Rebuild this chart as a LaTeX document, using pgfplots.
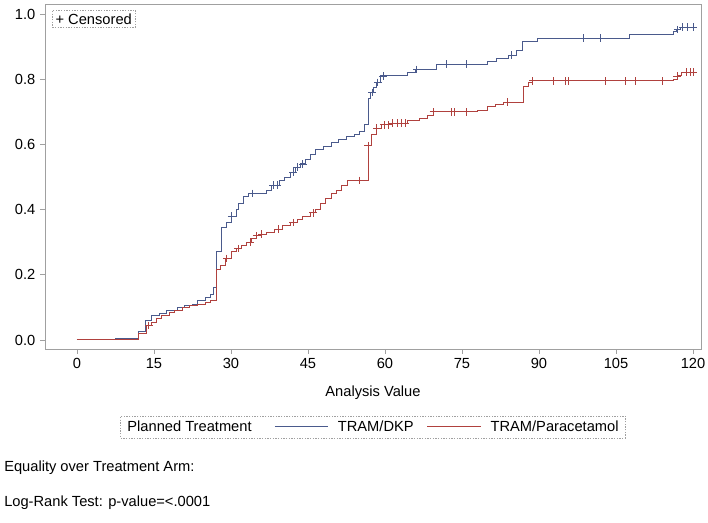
\documentclass[border=0pt]{standalone}
\usepackage{pgfplots}
\pgfplotsset{compat=1.18}
\usepackage{fontspec}
\setmainfont{Liberation Sans}
\definecolor{kmblue}{HTML}{4A5A8C}
\definecolor{kmred}{HTML}{B0413E}
\definecolor{framegray}{HTML}{A0A0A0}
\begin{document}
\begin{tikzpicture}
\begin{axis}[
  at={(0,0)}, anchor=south west,
  scale only axis, width=492pt, height=258.75pt,
  xmin=-6.23, xmax=121.56, ymin=-0.0277, ymax=1.0308,
  axis line style={framegray, line width=0.6pt},
  tick style={framegray, line width=0.6pt},
  tick align=outside, major tick length=3.75pt,
  xtick pos=bottom, ytick pos=left,
  xtick={0,15,...,120}, ytick={0,0.2,0.4,0.6,0.8,1.0},
  yticklabel style={/pgf/number format/.cd, fixed, fixed zerofill, precision=1},
  /pgf/number format/assume math mode=true,
  ticklabel style={font=\fontsize{11}{13}\selectfont, text=black},
  xlabel={Analysis Value},
  xlabel style={font=\fontsize{11}{13}\selectfont, at={(axis description cs:0.5,-0.1275)}, anchor=center},
  legend columns=3,
  legend image code/.code={\draw[#1] (0pt,0pt) -- (40pt,0pt);},
  legend style={at={(0.5,-0.226)}, anchor=center, draw=framegray,
    dash pattern=on 1pt off 1pt, font=\fontsize{11}{13}\selectfont,
    /tikz/column 2/.style={column sep=15pt},
    /tikz/column 3/.style={column sep=5pt},
    /tikz/column 4/.style={column sep=8pt},
    /tikz/column 5/.style={column sep=5pt},
    inner ysep=1.5pt},
  legend cell align=left,
]
\addlegendimage{empty legend}\addlegendentry{Planned Treatment}
\addplot[const plot, kmblue, line width=0.7pt, mark=none] coordinates {
(0,0) (7.4,0.005) (12,0.025) (13.3,0.06) (14.5,0.075) (16,0.08) (17.5,0.09)
(19.5,0.10) (21,0.105) (22.5,0.11) (23.5,0.12) (25,0.13) (26,0.14) (26.5,0.16)
(27.2,0.27) (28.2,0.345) (29.2,0.36) (30.1,0.38) (31,0.40) (31.5,0.42) (32.5,0.44)
(33.5,0.45) (37,0.46) (37.8,0.475) (39.5,0.49) (40.5,0.50) (41.5,0.515) (42.5,0.53)
(43.5,0.54) (44.5,0.555) (45.5,0.57) (46.5,0.585) (48,0.595) (49.5,0.605)
(51,0.615) (52.5,0.625) (54,0.63) (55,0.64) (56,0.66) (56.7,0.74) (57.2,0.76)
(57.7,0.775) (58.4,0.79) (59.2,0.81) (64.3,0.82) (66,0.83) (70,0.846) (79.9,0.855)
(81.8,0.865) (84,0.874) (85.7,0.887) (86.7,0.917) (89.8,0.926) (107.7,0.938)
(116.2,0.945) (116.8,0.952) (117.5,0.96) (120,0.96)
};
\addlegendentry{TRAM/DKP}
\addplot[const plot, kmred, line width=0.7pt, mark=none] coordinates {
(0,0) (12,0.02) (13.5,0.045) (14.5,0.055) (15.5,0.065) (16.5,0.075) (18,0.085)
(19,0.09) (20.5,0.10) (22,0.105) (23.5,0.11) (25,0.115) (26,0.12) (27.2,0.215)
(28,0.23) (29,0.25) (30,0.27) (31,0.28) (32,0.29) (33,0.30) (34,0.31) (35,0.32)
(36,0.325) (37,0.33) (38.5,0.34) (40,0.35) (41.5,0.36) (43,0.37) (44,0.38)
(45.5,0.39) (46.5,0.40) (47.5,0.42) (48.5,0.435) (49.5,0.45) (50.5,0.46)
(51.5,0.475) (52.6,0.49) (56.7,0.596) (57.4,0.63) (58.4,0.65) (59.4,0.66)
(61,0.665) (64.3,0.672) (66.8,0.68) (68.2,0.69) (69.4,0.70) (78,0.705) (80,0.715)
(81.5,0.723) (83,0.73) (86.9,0.778) (87.9,0.79) (88.8,0.795) (116.2,0.80)
(117,0.81) (117.8,0.822) (120.5,0.822)
};
\addlegendentry{TRAM/Paracetamol}
\addplot[only marks, mark=+, mark size=2.8pt, kmblue, line width=0.6pt, forget plot] coordinates {
(30.1,0.38) (34.1,0.45) (38.2,0.475) (39,0.475) (42.1,0.515) (42.9,0.53) (44,0.54)
(57.5,0.76) (58.6,0.79) (59.6,0.81) (66.2,0.83) (72,0.846) (75.9,0.846)
(84.7,0.874) (98.6,0.926) (101.9,0.926) (117,0.952) (118,0.96) (119,0.96) (120,0.96)
};
\addplot[only marks, mark=+, mark size=2.8pt, kmred, line width=0.6pt, forget plot] coordinates {
(14,0.045) (29.2,0.25) (31.4,0.28) (33.7,0.30) (35,0.32) (36,0.325) (39.2,0.34)
(42.1,0.36) (46,0.39) (55.1,0.49) (56.7,0.596) (58.4,0.65) (59.8,0.66) (60.6,0.66)
(61.4,0.665) (62.4,0.665) (63.2,0.665) (64,0.665) (69.4,0.70) (73,0.70) (73.6,0.70)
(75.9,0.70) (83.8,0.73) (88.8,0.795) (92.8,0.795) (95.1,0.795) (95.7,0.795)
(102.9,0.795) (106.8,0.795) (108.7,0.795) (114,0.795) (116.9,0.81) (118.8,0.822)
(119.4,0.822) (120,0.822)
};
\node[draw=framegray, dash pattern=on 1pt off 1pt, anchor=north west,
  inner sep=2.5pt, font=\fontsize{11}{13}\selectfont]
  at (axis description cs:0.0107,0.983) {+ Censored};
\end{axis}
\node[anchor=west, inner sep=0pt, font=\fontsize{11}{13}\selectfont] at (-30.75pt,-89.25pt) {Equality over Treatment Arm:};
\node[anchor=west, inner sep=0pt, font=\fontsize{11}{13}\selectfont] at (-30.75pt,-115.5pt) {Log-Rank Test: p-value=<.0001};
\pgfresetboundingbox
\path[use as bounding box] (-33.75pt,-130.5pt) rectangle (497.25pt,261.75pt);
\end{tikzpicture}
\end{document}
